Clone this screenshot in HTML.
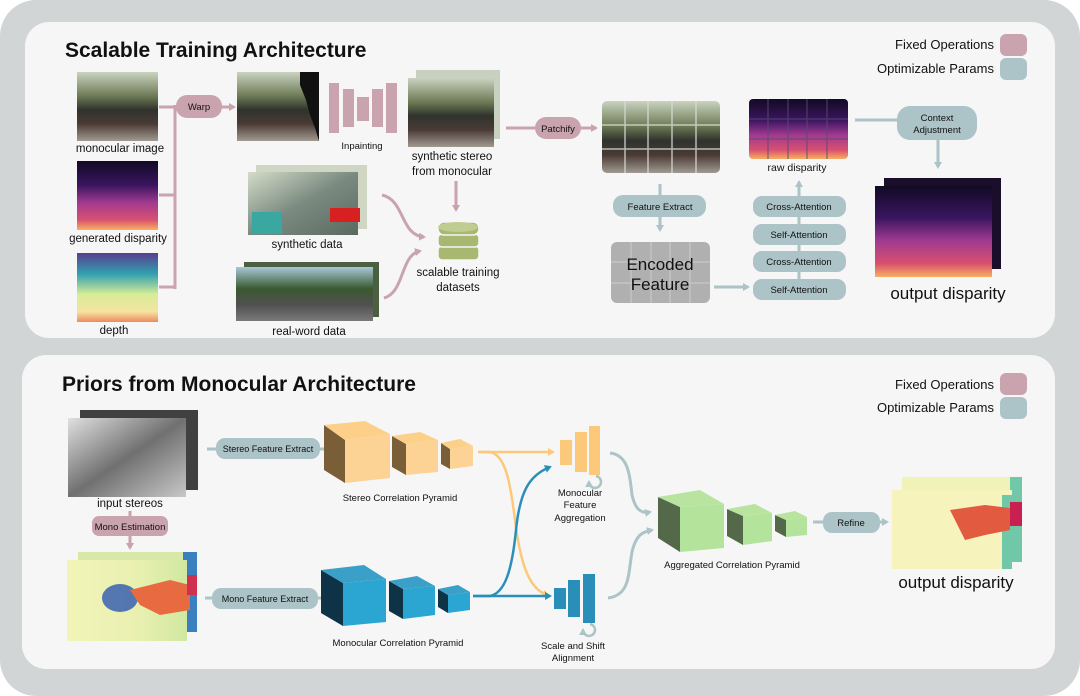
<!DOCTYPE html>
<html><head><meta charset="utf-8"><style>
html,body{margin:0;padding:0;background:#fff}
svg{display:block}
text{font-family:"Liberation Sans",sans-serif;fill:#111}
</style></head><body>
<svg width="1080" height="696" viewBox="0 0 1080 696" xmlns="http://www.w3.org/2000/svg">
<defs>
<linearGradient id="train" x1="0" y1="0" x2="0" y2="1"><stop offset="0" stop-color="#c9d3c0"/><stop offset="0.35" stop-color="#6d7a55"/><stop offset="0.55" stop-color="#2f332c"/><stop offset="0.75" stop-color="#4a3a36"/><stop offset="1" stop-color="#a09a90"/></linearGradient>
<linearGradient id="disp" x1="0" y1="0" x2="0" y2="1"><stop offset="0" stop-color="#120a24"/><stop offset="0.35" stop-color="#3a1560"/><stop offset="0.6" stop-color="#a03a90"/><stop offset="0.85" stop-color="#d85070"/><stop offset="1" stop-color="#f8b060"/></linearGradient>
<linearGradient id="depth" x1="0" y1="0" x2="0" y2="1"><stop offset="0" stop-color="#5a3d8e"/><stop offset="0.3" stop-color="#2fa0b0"/><stop offset="0.6" stop-color="#d8ec98"/><stop offset="0.85" stop-color="#f4e4a0"/><stop offset="1" stop-color="#f08a60"/></linearGradient>
<linearGradient id="synth" x1="0" y1="0" x2="1" y2="1"><stop offset="0" stop-color="#d4dcc8"/><stop offset="0.5" stop-color="#7a8a80"/><stop offset="1" stop-color="#5a6a60"/></linearGradient>
<linearGradient id="real" x1="0" y1="0" x2="0" y2="1"><stop offset="0" stop-color="#a8c8d8"/><stop offset="0.4" stop-color="#3a5a30"/><stop offset="0.7" stop-color="#505050"/><stop offset="1" stop-color="#7a7a7a"/></linearGradient>
<linearGradient id="gray" x1="0" y1="0" x2="1" y2="1"><stop offset="0" stop-color="#e0e0e0"/><stop offset="0.5" stop-color="#707070"/><stop offset="1" stop-color="#c8c8c8"/></linearGradient>
<linearGradient id="hand" x1="0" y1="0" x2="1" y2="0"><stop offset="0" stop-color="#f2f4b8"/><stop offset="0.6" stop-color="#e8f0b0"/><stop offset="1" stop-color="#d0e8a0"/></linearGradient>
<marker id="ap" markerWidth="8" markerHeight="8" refX="5" refY="4" orient="auto" markerUnits="userSpaceOnUse"><path d="M0,0 L7,4 L0,8 z" fill="#c9a3ae"/></marker>
<marker id="ab" markerWidth="8" markerHeight="8" refX="5" refY="4" orient="auto" markerUnits="userSpaceOnUse"><path d="M0,0 L7,4 L0,8 z" fill="#acc3c7"/></marker>
<marker id="ay" markerWidth="8" markerHeight="8" refX="5" refY="4" orient="auto" markerUnits="userSpaceOnUse"><path d="M0,0 L7,4 L0,8 z" fill="#fcc97a"/></marker>
<marker id="abl" markerWidth="8" markerHeight="8" refX="5" refY="4" orient="auto" markerUnits="userSpaceOnUse"><path d="M0,0 L7,4 L0,8 z" fill="#2a8fb8"/></marker>
</defs>
<rect x="0" y="0" width="1080" height="696" rx="36" fill="#d1d5d6"/>
<rect x="25" y="22" width="1030" height="316" rx="24" fill="#f6f6f6"/>
<rect x="22" y="355" width="1033" height="314" rx="24" fill="#f6f6f6"/>

<!-- TOP -->
<text x="65" y="57" font-size="21" font-weight="bold">Scalable Training Architecture</text>
<text x="994" y="49" font-size="13" text-anchor="end">Fixed Operations</text>
<rect x="1000" y="34" width="27" height="22" rx="6" fill="#c9a3ae"/>
<text x="994" y="73" font-size="13" text-anchor="end">Optimizable Params</text>
<rect x="1000" y="58" width="27" height="22" rx="6" fill="#acc3c7"/>

<rect x="77" y="72" width="81" height="69" fill="url(#train)"/>
<text x="120" y="152" font-size="11.5" text-anchor="middle">monocular image</text>
<rect x="77" y="161" width="81" height="69" fill="url(#disp)"/>
<text x="118" y="242" font-size="11.5" text-anchor="middle">generated disparity</text>
<rect x="77" y="253" width="81" height="69" fill="url(#depth)"/>
<text x="114" y="334" font-size="11.5" text-anchor="middle">depth</text>

<g stroke="#c9a3ae" stroke-width="3" fill="none">
<path d="M159,107 H175 M159,195 H175 M159,287 H175 M175,105 V289"/>
<path d="M222,107 H234" marker-end="url(#ap)"/>
<path d="M456,181 V210" marker-end="url(#ap)"/>
<path d="M382,195 C405,200 400,235 424,237" marker-end="url(#ap)"/>
<path d="M384,298 C405,292 400,255 420,251" marker-end="url(#ap)"/>
<path d="M506,128 H535 M581,128 H596" marker-end="url(#ap)"/>
</g>
<rect x="176" y="95" width="46" height="23" rx="11" fill="#c9a3ae"/>
<text x="199" y="110" font-size="9.5" text-anchor="middle">Warp</text>

<rect x="237" y="72" width="82" height="69" fill="url(#train)"/>
<path d="M300,85 L306,100 L310,115 L315,128 L319,141 L319,72 L300,72z" fill="#111"/>
<g fill="#c9a3ae"><rect x="329" y="83" width="10" height="50"/><rect x="343" y="89" width="11" height="38"/><rect x="357" y="97" width="12" height="24"/><rect x="372" y="89" width="11" height="38"/><rect x="386" y="83" width="11" height="50"/></g>
<text x="362" y="149" font-size="9.5" text-anchor="middle">Inpainting</text>

<rect x="416" y="70" width="84" height="69" fill="#c8d0c0"/>
<rect x="408" y="78" width="86" height="69" fill="url(#train)"/>
<text x="452" y="160" font-size="11.5" text-anchor="middle">synthetic stereo</text>
<text x="452" y="175" font-size="11.5" text-anchor="middle">from monocular</text>

<rect x="256" y="165" width="111" height="64" fill="#cfd6c4"/>
<rect x="248" y="172" width="110" height="63" fill="url(#synth)"/>
<rect x="330" y="208" width="30" height="14" fill="#d82020"/>
<rect x="252" y="212" width="30" height="22" fill="#3aa8a0"/>
<text x="307" y="248" font-size="11.5" text-anchor="middle">synthetic data</text>
<rect x="244" y="262" width="135" height="55" fill="#4a6040"/>
<rect x="236" y="267" width="137" height="54" fill="url(#real)"/>
<text x="309" y="335" font-size="11.5" text-anchor="middle">real-word data</text>

<g fill="#a8b870" stroke="#f6f6f6" stroke-width="1.5">
<rect x="438" y="246" width="41" height="14" rx="4"/><rect x="438" y="234" width="41" height="13" rx="4"/><rect x="438" y="222" width="41" height="13" rx="6"/>
</g>
<ellipse cx="458" cy="227" rx="20" ry="5" fill="#c0cc90"/>
<text x="458" y="276" font-size="11.5" text-anchor="middle">scalable training</text>
<text x="458" y="291" font-size="11.5" text-anchor="middle">datasets</text>

<rect x="535" y="117" width="46" height="22" rx="11" fill="#c9a3ae"/>
<text x="558" y="132" font-size="9.5" text-anchor="middle">Patchify</text>

<rect x="602" y="101" width="118" height="72" rx="5" fill="url(#train)"/>
<g stroke="#d8dcd8" stroke-width="1.5" opacity="0.8"><path d="M625,101V173M648,101V173M672,101V173M696,101V173M602,125H720M602,149H720"/></g>

<g stroke="#acc3c7" stroke-width="3" fill="none">
<path d="M660,184 V230" marker-end="url(#ab)"/>
<path d="M714,287 H748" marker-end="url(#ab)"/>
<path d="M799,279 V182" marker-end="url(#ab)"/>
<path d="M855,120 H900 M938,140 V167" marker-end="url(#ab)"/>
</g>
<rect x="613" y="195" width="93" height="22" rx="10" fill="#acc3c7"/>
<text x="660" y="210" font-size="9.5" text-anchor="middle">Feature Extract</text>

<g fill="#b0b0b0">
<rect x="611" y="242" width="99" height="61" rx="6"/>
</g>
<g stroke="#c8c8c8" stroke-width="1.2"><path d="M631,242V303M651,242V303M670,242V303M690,242V303M611,262H710M611,283H710"/></g>
<text x="660" y="270" font-size="17" text-anchor="middle">Encoded</text>
<text x="660" y="290" font-size="17" text-anchor="middle">Feature</text>

<g fill="#acc3c7">
<rect x="753" y="196" width="93" height="21" rx="9"/><rect x="753" y="224" width="93" height="21" rx="9"/><rect x="753" y="251" width="93" height="21" rx="9"/><rect x="753" y="279" width="93" height="21" rx="9"/>
</g>
<g font-size="9.5" text-anchor="middle">
<text x="799" y="210">Cross-Attention</text><text x="799" y="238">Self-Attention</text><text x="799" y="265">Cross-Attention</text><text x="799" y="293">Self-Attention</text>
</g>

<rect x="749" y="99" width="99" height="60" rx="4" fill="url(#disp)"/>
<g stroke="#5a4a70" stroke-width="1.5" opacity="0.6"><path d="M768,99V159M788,99V159M807,99V159M827,99V159M749,119H848M749,139H848"/></g>
<text x="797" y="171" font-size="10.5" text-anchor="middle">raw disparity</text>

<rect x="897" y="106" width="80" height="34" rx="13" fill="#acc3c7"/>
<text x="937" y="121" font-size="9.5" text-anchor="middle">Context</text>
<text x="937" y="133" font-size="9.5" text-anchor="middle">Adjustment</text>

<rect x="884" y="178" width="117" height="91" fill="#1a0e2a"/>
<rect x="875" y="186" width="117" height="91" fill="url(#disp)"/>
<text x="948" y="299" font-size="17" text-anchor="middle">output disparity</text>

<!-- BOTTOM -->
<text x="62" y="391" font-size="21" font-weight="bold">Priors from Monocular Architecture</text>
<text x="994" y="389" font-size="13" text-anchor="end">Fixed Operations</text>
<rect x="1000" y="373" width="27" height="22" rx="6" fill="#c9a3ae"/>
<text x="994" y="412" font-size="13" text-anchor="end">Optimizable Params</text>
<rect x="1000" y="397" width="27" height="22" rx="6" fill="#acc3c7"/>

<rect x="80" y="410" width="118" height="80" fill="#404040"/>
<rect x="68" y="418" width="118" height="79" fill="url(#gray)"/>
<text x="130" y="507" font-size="11.5" text-anchor="middle">input stereos</text>
<g stroke="#c9a3ae" stroke-width="3" fill="none"><path d="M130,511 V516 M130,536 V548" marker-end="url(#ap)"/></g>
<rect x="92" y="516" width="76" height="20" rx="7" fill="#c9a3ae"/>
<text x="130" y="530" font-size="9.5" text-anchor="middle">Mono Estimation</text>

<rect x="78" y="552" width="119" height="80" fill="#dcea a8"/>
<rect x="78" y="552" width="119" height="80" fill="#d8e8a8"/>
<rect x="183" y="552" width="14" height="80" fill="#3a80c0"/>
<rect x="67" y="560" width="120" height="81" fill="url(#hand)"/>
<ellipse cx="120" cy="598" rx="18" ry="14" fill="#3a60b0" opacity="0.85"/>
<path d="M130,590 L170,580 L190,585 L190,610 L160,615 L140,605z" fill="#e86a40"/>
<rect x="187" y="575" width="10" height="20" fill="#d03050"/>

<g stroke="#acc3c7" stroke-width="3" fill="none">
<path d="M207,449 H216 M320,449 H331" marker-end="url(#ab)"/>
<path d="M205,598 H212 M318,598 H328" marker-end="url(#ab)"/>
<path d="M610,453 C630,455 630,480 632,495 C635,508 640,514 650,512" marker-end="url(#ab)"/>
<path d="M608,598 C630,595 628,575 632,552 C636,535 642,532 652,530" marker-end="url(#ab)"/>
<path d="M813,522 H823 M880,522 H887" marker-end="url(#ab)"/>
</g>
<g stroke="#acc3c7" stroke-width="2.5" fill="none"><path d="M596,476 a6,6 0 1 1 -7,6" marker-end="url(#ab)"/><path d="M590,624 a6,6 0 1 1 -7,6" marker-end="url(#ab)"/></g>

<rect x="216" y="438" width="104" height="21" rx="9" fill="#acc3c7"/>
<text x="268" y="452" font-size="9" text-anchor="middle">Stereo Feature Extract</text>
<rect x="212" y="588" width="106" height="21" rx="9" fill="#acc3c7"/>
<text x="265" y="602" font-size="9" text-anchor="middle">Mono Feature Extract</text>

<g>
<polygon points="324,425 345,440 345,483 324,470" fill="#7a5e38"/><polygon points="345,440 390,434 390,478 345,483" fill="#fcd394"/><polygon points="324,425 365,421 390,434 345,440" fill="#fdd08a"/>
<polygon points="392,436 406,444 406,475 392,467" fill="#7a5e38"/><polygon points="406,444 438,440 438,472 406,475" fill="#fcd394"/><polygon points="392,436 420,432 438,440 406,444" fill="#fdd08a"/>
<polygon points="441,443 450,449 450,469 441,464" fill="#7a5e38"/><polygon points="450,449 473,446 473,466 450,469" fill="#fcd394"/><polygon points="441,443 460,439 473,446 450,449" fill="#fdd08a"/>
</g>
<text x="400" y="501" font-size="9.5" text-anchor="middle">Stereo Correlation Pyramid</text>
<g>
<polygon points="321,570 343,583 343,626 321,613" fill="#0f3346"/><polygon points="343,583 386,579 386,622 343,626" fill="#2ba6d2"/><polygon points="321,570 364,565 386,579 343,583" fill="#3aa0c8"/>
<polygon points="389,581 403,589 403,619 389,611" fill="#0f3346"/><polygon points="403,589 435,586 435,615 403,619" fill="#2ba6d2"/><polygon points="389,581 417,576 435,586 403,589" fill="#3aa0c8"/>
<polygon points="438,589 448,595 448,613 438,607" fill="#0f3346"/><polygon points="448,595 470,592 470,610 448,613" fill="#2ba6d2"/><polygon points="438,589 458,585 470,592 448,595" fill="#3aa0c8"/>
</g>
<text x="398" y="646" font-size="9.5" text-anchor="middle">Monocular Correlation Pyramid</text>

<g fill="none" stroke-width="2.5">
<path d="M478,452 H490 C505,455 510,480 515,520 C520,560 528,590 548,595" stroke="#fcc97a" marker-end="url(#ay)"/>
<path d="M478,452 H553" stroke="#fcc97a" marker-end="url(#ay)"/>
<path d="M473,596 H490 C505,593 512,570 516,530 C520,490 530,475 550,467" stroke="#2a8fb8" marker-end="url(#abl)"/>
<path d="M473,596 H550" stroke="#2a8fb8" marker-end="url(#abl)"/>
</g>

<g fill="#fcc97a"><rect x="560" y="440" width="12" height="25"/><rect x="575" y="432" width="12" height="40"/><rect x="589" y="426" width="11" height="49"/></g>
<g font-size="9.5" text-anchor="middle"><text x="580" y="496">Monocular</text><text x="580" y="508">Feature</text><text x="580" y="521">Aggregation</text></g>
<g fill="#2a8fb8"><rect x="554" y="588" width="12" height="21"/><rect x="568" y="580" width="12" height="37"/><rect x="583" y="574" width="12" height="49"/></g>
<g font-size="9.5" text-anchor="middle"><text x="573" y="649">Scale and Shift</text><text x="573" y="661">Alignment</text></g>

<g>
<polygon points="658,497 680,507 680,552 658,538" fill="#54694a"/><polygon points="680,507 724,504 724,548 680,552" fill="#b4e49c"/><polygon points="658,497 700,490 724,504 680,507" fill="#b8e4a0"/>
<polygon points="727,509 743,516 743,545 727,536" fill="#54694a"/><polygon points="743,516 772,513 772,541 743,545" fill="#b4e49c"/><polygon points="727,509 755,504 772,513 743,516" fill="#b8e4a0"/>
<polygon points="775,515 786,520 786,537 775,531" fill="#54694a"/><polygon points="786,520 807,517 807,535 786,537" fill="#b4e49c"/><polygon points="775,515 795,511 807,517 786,520" fill="#b8e4a0"/>
</g>
<text x="732" y="568" font-size="9.5" text-anchor="middle">Aggregated Correlation Pyramid</text>

<rect x="823" y="512" width="57" height="21" rx="9" fill="#acc3c7"/>
<text x="851" y="526" font-size="9.5" text-anchor="middle">Refine</text>

<rect x="902" y="477" width="120" height="85" fill="#f0f2b8"/>
<rect x="1010" y="477" width="12" height="85" fill="#70c8a8"/>
<rect x="892" y="490" width="120" height="79" fill="#f6f4bc"/>
<rect x="1002" y="495" width="10" height="74" fill="#70c8a8"/>
<path d="M950,510 L985,505 L1010,508 L1010,530 L985,535 L965,540 L960,530z" fill="#e25a40"/>
<rect x="1010" y="502" width="12" height="24" fill="#c82050"/>
<text x="956" y="588" font-size="17" text-anchor="middle">output disparity</text>
</svg>
</body></html>
